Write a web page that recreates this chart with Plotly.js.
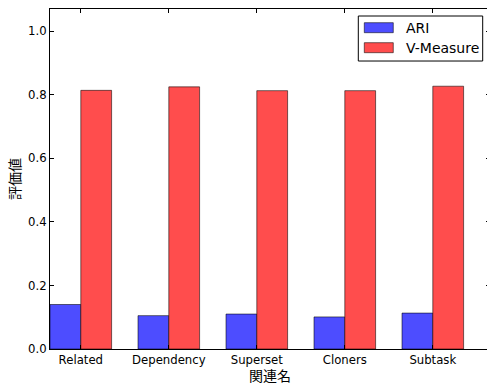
<!DOCTYPE html>
<html>
<head>
<meta charset="utf-8">
<script src="https://cdn.plot.ly/plotly-3.0.1.min.js"></script>
<style>
html, body { margin: 0; padding: 0; overflow: hidden; background: #fff; }
#chart { width: 492px; height: 385px; }
</style>
</head>
<body>
<div id="chart"></div>
<script>
const categories = ["Related", "Dependency", "Superset", "Cloners", "Subtask"];
const ariValues = [0.140, 0.105, 0.110, 0.101, 0.113];
const vMeasureValues = [0.814, 0.825, 0.813, 0.813, 0.827];
const seriesNames = ["ARI", "V-Measure"];
const seriesColors = ["rgb(77,77,255)", "rgb(255,77,77)"];
const yTickValues = [0.0, 0.2, 0.4, 0.6, 0.8, 1.0];
const yTickLabels = ["0.0", "0.2", "0.4", "0.6", "0.8", "1.0"];

const edge = { color: "rgba(0,0,0,0.55)", width: 1 };
const traces = [
  { type: "bar", name: seriesNames[0], x: categories, y: ariValues,
    marker: { color: seriesColors[0], line: edge } },
  { type: "bar", name: seriesNames[1], x: categories, y: vMeasureValues,
    marker: { color: seriesColors[1], line: edge } }
];

const font = { family: "DejaVu Sans, sans-serif", size: 11.7, color: "#000" };
const axisCommon = {
  showline: true, linecolor: "#000", linewidth: 1, mirror: "allticks",
  ticks: "inside", ticklen: 4, tickcolor: "#000", tickwidth: 1,
  showgrid: false, zeroline: false, tickfont: font
};

// custom legend (box, wide patches, labels) in paper coordinates
const legendBox = { x0: 0.7007, x1: 0.9834, y0: 0.847, y1: 0.9794 };
const patchX = [0.7143, 0.7802];
const patchY = [[0.9303, 0.9597], [0.8715, 0.9009]];
const labelX = 0.8040;
const shapes = [
  { type: "rect", xref: "paper", yref: "paper",
    x0: legendBox.x0, x1: legendBox.x1, y0: legendBox.y0, y1: legendBox.y1,
    line: { color: "#000", width: 1 }, fillcolor: "#fff" }
];
const annotations = [];
seriesNames.forEach((name, i) => {
  shapes.push({ type: "rect", xref: "paper", yref: "paper",
    x0: patchX[0], x1: patchX[1], y0: patchY[i][0], y1: patchY[i][1],
    line: edge, fillcolor: seriesColors[i] });
  annotations.push({ xref: "paper", yref: "paper", x: labelX,
    y: (patchY[i][0] + patchY[i][1]) / 2, text: name, showarrow: false,
    xanchor: "left", yanchor: "middle",
    font: { family: "DejaVu Sans, sans-serif", size: 14, color: "#000" } });
});

const layout = {
  width: 492, height: 385,
  margin: { l: 50, r: 2, t: 9, b: 36 },
  paper_bgcolor: "#fff", plot_bgcolor: "#fff",
  barmode: "group", bargap: 0.3, bargroupgap: 0,
  showlegend: false,
  shapes: shapes,
  annotations: annotations,
  xaxis: Object.assign({}, axisCommon, {
    type: "category", range: [-0.35, 4.65],
    title: { text: "関連名", standoff: 5,
      font: { family: "Noto Sans CJK JP, sans-serif", size: 14, color: "#000" } }
  }),
  yaxis: Object.assign({}, axisCommon, {
    range: [0, 1.07],
    tickvals: yTickValues, ticktext: yTickLabels,
    title: { text: "評価値", standoff: 4,
      font: { family: "Noto Sans CJK JP, sans-serif", size: 14, color: "#000" } }
  })
};

Plotly.newPlot("chart", traces, layout, { staticPlot: true, displayModeBar: false });
</script>
</body>
</html>
